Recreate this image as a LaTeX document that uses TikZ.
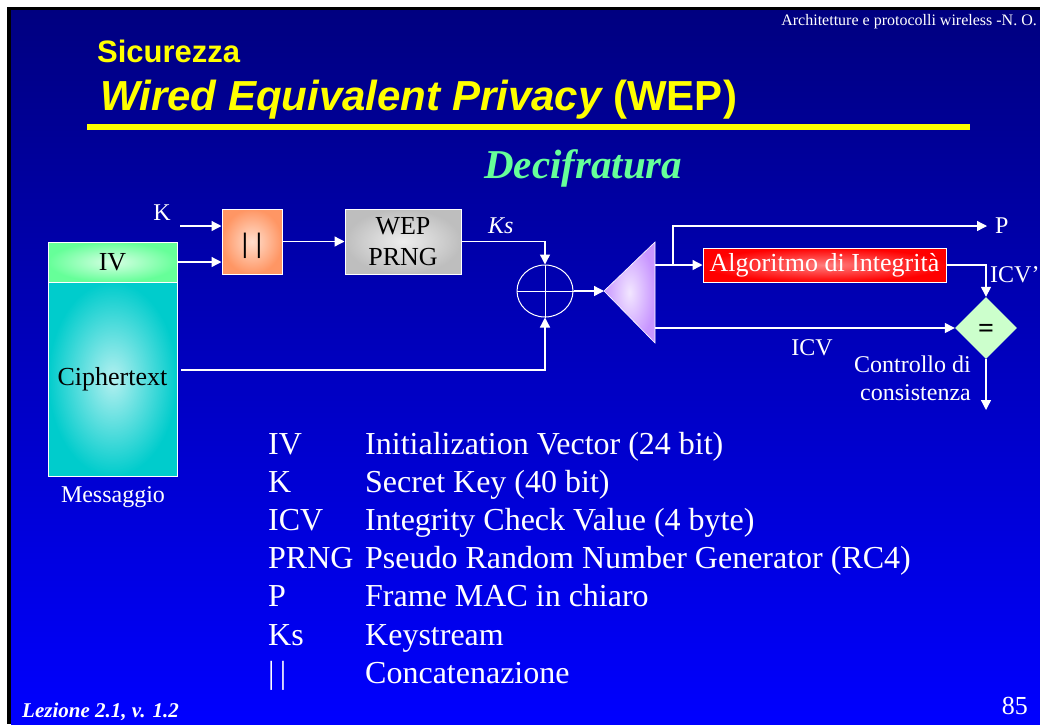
\documentclass[tikz,border=0pt]{standalone}
\usepackage{fontspec}
\setmainfont{Liberation Serif}
\newfontfamily\arialfont{Liberation Sans}
\usetikzlibrary{arrows.meta,shapes.geometric,positioning}

\definecolor{slideTop}{RGB}{0,0,128}
\definecolor{slideMid}{RGB}{0,0,175}
\definecolor{slideBottom}{RGB}{0,0,255}
\definecolor{titleYellow}{RGB}{255,255,0}
\definecolor{subGreen}{RGB}{102,255,153}
\definecolor{concatEdge}{RGB}{255,150,100}
\definecolor{concatCore}{RGB}{255,222,205}
\definecolor{prngEdge}{RGB}{190,190,190}
\definecolor{prngCore}{RGB}{238,238,238}
\definecolor{demuxEdge}{RGB}{200,150,255}
\definecolor{demuxCore}{RGB}{242,230,255}
\definecolor{algoEdge}{RGB}{255,0,0}
\definecolor{algoCore}{RGB}{255,125,125}
\definecolor{ivEdge}{RGB}{102,255,153}
\definecolor{ivCore}{RGB}{215,255,228}
\definecolor{cipherEdge}{RGB}{0,204,204}
\definecolor{cipherCore}{RGB}{180,240,240}
\definecolor{checkFill}{RGB}{204,255,204}

\begin{document}
\begin{tikzpicture}
[x=1pt,y=-1pt,
  lineDecorate/.style={-{Triangle[length=10pt,width=10pt]},white,line width=1.3pt},
  boxDecorate/.style={shape=rectangle,draw=white,line width=1pt,inner sep=0pt,
    text=black,font=\fontsize{26}{27}\selectfont,align=center},
  labelDecorate/.style={inner sep=0pt,text=white,font=\fontsize{24}{28}\selectfont},
  legendDecorate/.style={inner sep=0pt,anchor=base west,text=white,
    font=\fontsize{32}{34}\selectfont}]
\useasboundingbox (0,0) rectangle (1040,724);
%% slide background
\fill[white] (0,0) rectangle (1040,724);
\fill[black] (7,7) rectangle (1040,724);
\shade[top color=slideTop,middle color=slideMid,bottom color=slideBottom]
  (11,10) rectangle (1040,724);
%% header and footer
\node[inner sep=0pt,anchor=base east,text=white,font=\fontsize{16}{18}\selectfont]
  (header) at (1037,25) {Architetture e protocolli wireless -N. O.};
\node[inner sep=0pt,anchor=base west,text=titleYellow,
  font=\arialfont\bfseries\fontsize{31}{33}\selectfont]
  (section) at (97,62) {Sicurezza};
\node[inner sep=0pt,anchor=base west,text=titleYellow,
  font=\arialfont\bfseries\fontsize{42}{44}\selectfont]
  (title) at (100,110) {\itshape Wired Equivalent Privacy\upshape{} (WEP)};
\fill[titleYellow] (87,124) rectangle (970,130);
\node[inner sep=0pt,anchor=base west,text=subGreen,
  font=\bfseries\itshape\fontsize{41}{43}\selectfont]
  (subtitle) at (484,178) {Decifratura};
\node[inner sep=0pt,anchor=base west,text=white,
  font=\bfseries\itshape\fontsize{21}{23}\selectfont]
  (lesson) at (22,717) {Lezione 2.1, v. 1.2};
\node[inner sep=0pt,anchor=base east,text=white,font=\fontsize{26}{28}\selectfont]
  (page) at (1028,714) {85};

%% message
\node[boxDecorate,shade,inner color=ivCore,outer color=ivEdge,
  minimum width=129pt,minimum height=40pt] (iv) at (112.5,262) {IV};
\node[boxDecorate,shade,inner color=cipherCore,outer color=cipherEdge,
  minimum width=129pt,minimum height=194pt] (cipher) at (112.5,379) {Ciphertext};
\node[labelDecorate,anchor=base] (msg) at (113,502) {Messaggio};

%% blocks
\node[labelDecorate,anchor=base] (kLabel) at (162,220) {K};
\coordinate (kStart) at (180,226);
\node[boxDecorate,shade,inner color=concatCore,outer color=concatEdge,
  minimum width=60pt,minimum height=65pt,font=\bfseries\fontsize{28}{28}\selectfont]
  (concat) at (252,241.5) {\raisebox{-11pt}[0pt][0pt]{|\hspace{8pt}|}};
\node[boxDecorate,shade,inner color=prngCore,outer color=prngEdge,
  minimum width=116pt,minimum height=65pt,font=\fontsize{26}{31}\selectfont]
  (prng) at (403,241.5) {WEP\\PRNG};
\node[labelDecorate,anchor=base west,font=\itshape\fontsize{24}{28}\selectfont]
  (ksLabel) at (488,233) {Ks};
\node[shape=ellipse,draw=white,line width=1pt,inner sep=0pt,
  minimum width=56pt,minimum height=52pt] (xor) at (545,291) {};
\draw[white,line width=1pt] (xor.north) -- (xor.south) (xor.west) -- (xor.east);
\coordinate (cipherOut) at (181,370);

%% splitter
\coordinate (demuxTip) at (604,291);
\coordinate (demuxTop) at (655,242);
\coordinate (demuxBot) at (655,343);
\shade[inner color=demuxCore,outer color=demuxEdge,draw=white,line width=0.6pt]
  (demuxTip) -- (demuxTop) -- (demuxBot) -- cycle;
\coordinate (demuxOutA) at (655,265);
\coordinate (demuxOutB) at (655,328);
\coordinate (branchPt) at (673,265);

\node[boxDecorate,shade,inner color=algoCore,outer color=algoEdge,text=white,
  minimum width=243pt,minimum height=34pt] (algo) at (824.5,265)
  {Algoritmo di Integrità};
\coordinate (pEnd) at (987,226);
\node[labelDecorate,anchor=base west] (pLabel) at (995,233) {P};
\node[labelDecorate,anchor=base west] (icvPrime) at (990,282) {ICV'};
\node[shape=diamond,fill=checkFill,inner sep=0pt,minimum width=62pt,
  minimum height=62pt,text=black,font=\bfseries\fontsize{28}{28}\selectfont]
  (check) at (986,328) {\raisebox{-9pt}[0pt][0pt]{=}};
\node[labelDecorate,anchor=base] (icvLabel) at (812,355) {ICV};
\node[labelDecorate,anchor=north east,align=right,font=\fontsize{24}{28}\selectfont]
  (checkText) at (971,356) {Controllo di\\consistenza};
\coordinate (checkEnd) at (986,410);

%% connectors
\draw[lineDecorate] (kStart) -- (kStart -| concat.west);
\draw[lineDecorate] (iv.east) -- (iv.east -| concat.west);
\draw[lineDecorate] (concat.east) -- (prng.west);
\draw[lineDecorate] (prng.east) -| (xor.north);
\draw[lineDecorate] (cipherOut) -| (xor.south);
\draw[lineDecorate] (xor.east) -- (demuxTip);
\draw[lineDecorate] (demuxOutA) -- (algo.west);
\draw[lineDecorate] (branchPt) |- (pEnd);
\draw[lineDecorate] (algo.east) -| (check.north);
\draw[lineDecorate] (demuxOutB) -- (check.west);
\draw[lineDecorate] (check.south) -- (checkEnd);

%% legend
\foreach \i/\abbr/\desc in {
  0/IV/Initialization Vector (24 bit),
  1/K/Secret Key (40 bit),
  2/ICV/Integrity Check Value (4 byte),
  3/PRNG/Pseudo Random Number Generator (RC4),
  4/P/Frame MAC in chiaro,
  5/Ks/Keystream,
  6/|\,|/Concatenazione}
{
  \node[legendDecorate] (abbr\i) at (268,{454+38.2*\i}) {\abbr};
  \node[legendDecorate] (desc\i) at (365,{454+38.2*\i}) {\desc};
}
\end{tikzpicture}
\end{document}
